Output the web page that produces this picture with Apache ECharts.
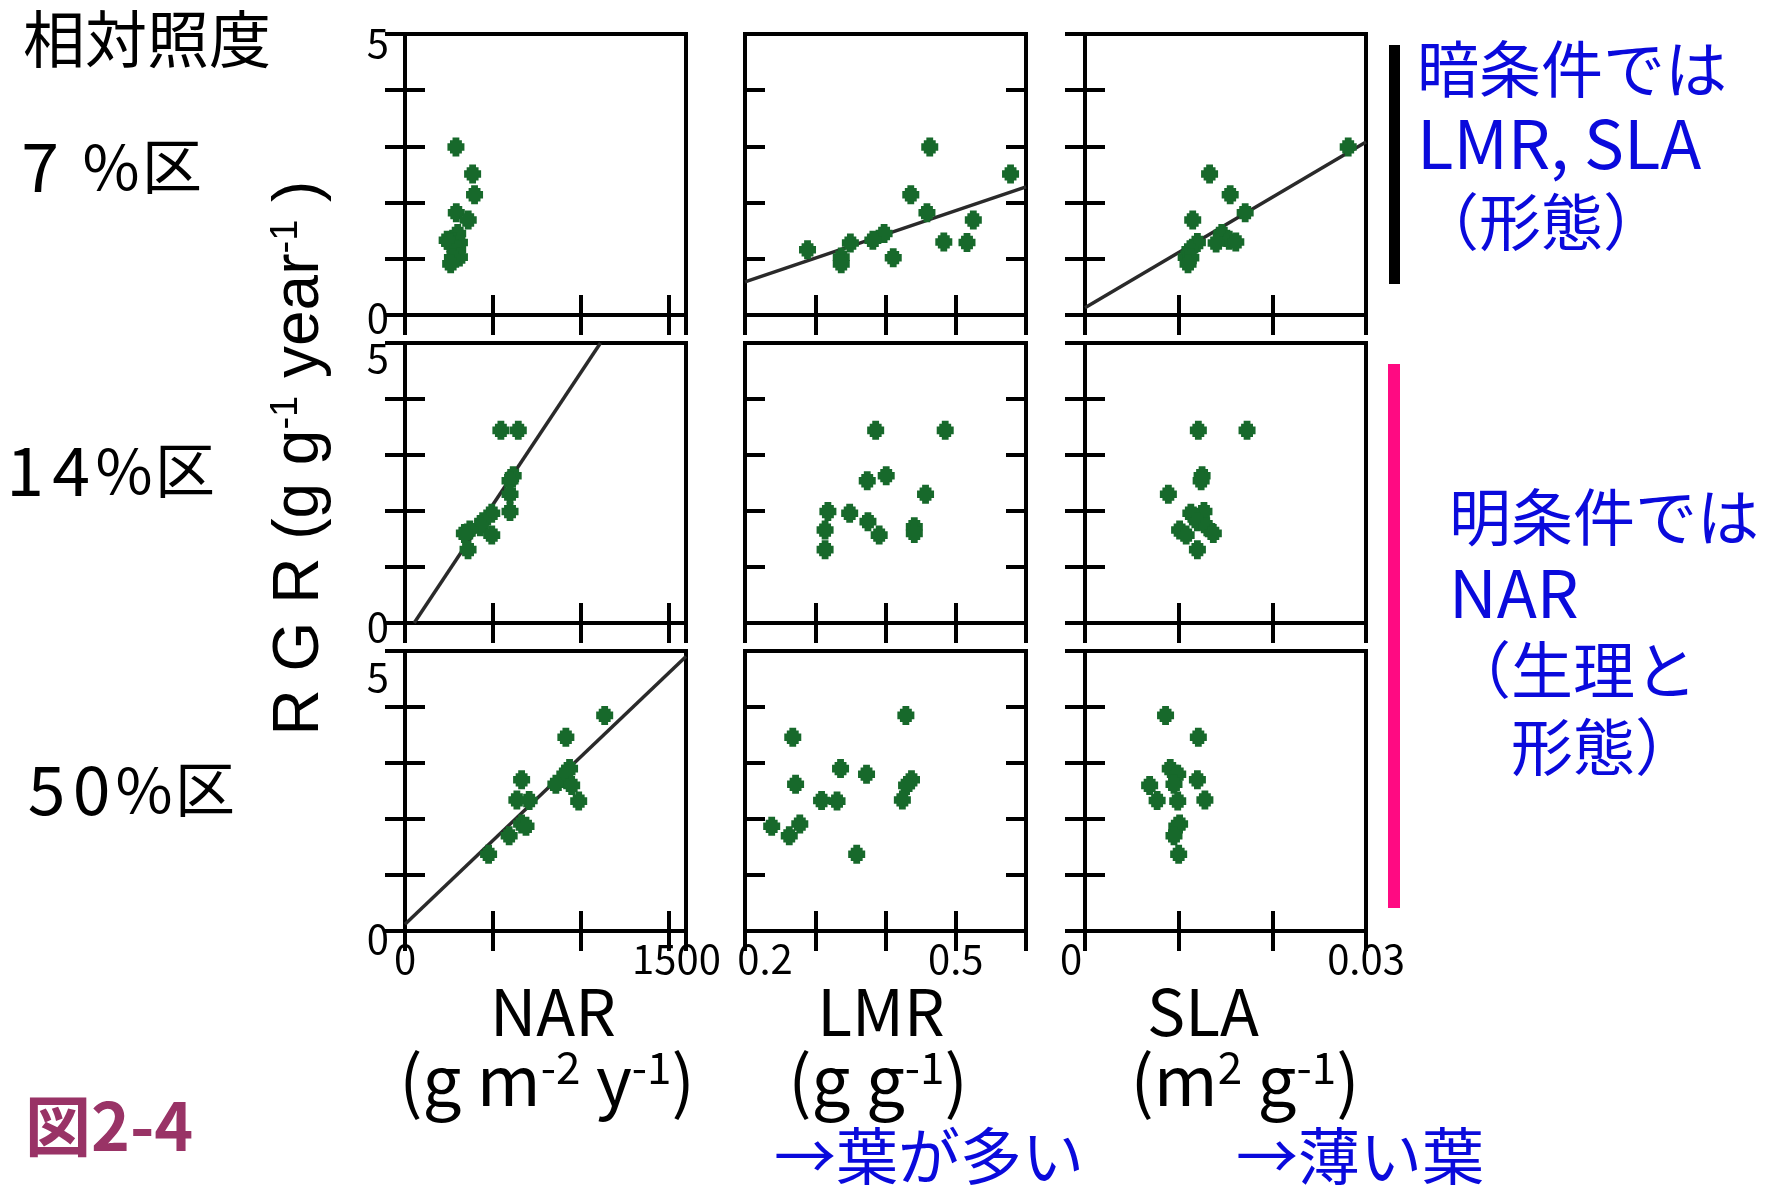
<!DOCTYPE html>
<html><head><meta charset="utf-8">
<script src="https://cdn.jsdelivr.net/npm/echarts@6/dist/echarts.min.js"></script>
<style>html,body{margin:0;padding:0;background:#fff}#c{width:1778px;height:1186px}</style>
</head><body><div id="c"></div>
<script>
// ---------------- data ----------------
// 7% light
const rgr7 = [2.99, 2.51, 2.14, 1.82, 1.69, 1.45, 1.33, 1.30, 1.29, 1.28, 1.16, 1.03, 1.02, 0.91];
const nar7 = [290, 385, 396, 292, 360, 300, 240, 280, 310, 255, 300, 310, 270, 260];
const lmr7 = [0.463, 0.578, 0.436, 0.459, 0.525, 0.398, 0.382, 0.483, 0.516, 0.350, 0.289, 0.337, 0.411, 0.337];
const sla7 = [0.0281, 0.0133, 0.0155, 0.0171, 0.0115, 0.0146, 0.0154, 0.0161, 0.0120, 0.0140, 0.0112, 0.0108, 0.0113, 0.0110];
// 14% light
const rgr14 = [3.44, 3.44, 2.63, 2.54, 2.30, 1.99, 1.96, 1.81, 1.72, 1.66, 1.60, 1.57, 1.31];
const nar14 = [546, 645, 616, 598, 598, 598, 494, 442, 429, 369, 338, 494, 359];
const lmr14 = [0.386, 0.485, 0.401, 0.374, 0.457, 0.318, 0.349, 0.375, 0.441, 0.314, 0.441, 0.391, 0.314];
const sla14 = [0.0121, 0.0173, 0.0125, 0.0124, 0.0089, 0.0127, 0.0113, 0.0120, 0.0130, 0.0101, 0.0137, 0.0108, 0.0120];
// 50% light
const rgr50 = [3.85, 3.46, 2.90, 2.80, 2.70, 2.62, 2.60, 2.34, 2.33, 2.32, 1.91, 1.87, 1.70, 1.37];
const nar50 = [1137, 916, 937, 910, 664, 859, 949, 637, 707, 989, 664, 689, 593, 476];
const lmr50 = [0.429, 0.268, 0.336, 0.373, 0.437, 0.272, 0.430, 0.424, 0.309, 0.331, 0.278, 0.238, 0.263, 0.359];
const sla50 = [0.0086, 0.0121, 0.0091, 0.0099, 0.0120, 0.0095, 0.0069, 0.0128, 0.0077, 0.0099, 0.0101, 0.0098, 0.0095, 0.0100];
// regression lines (endpoints, data units)
const regLMR7 = [[0.2, 0.59], [0.6, 2.28]];
const regSLA7 = [[0, 0.13], [0.03, 3.08]];
const regNAR14 = [[52, 0], [1113, 5]];
const regNAR50 = [[0, 0.12], [1600, 4.9]];
// axis settings / tick labels
const xNames = ['NAR', 'LMR', 'SLA'];
const xMin = [0, 0.2, 0];
const xMax = [1600, 0.6, 0.03];
const xStep = [500, 0.1, 0.01];
const xTickLabels = [['0', '1500'], ['0.2', '0.5'], ['0', '0.03']];
const yTickLabels = ['0', '5'];
const rowLabels = ['7 %区', '14%区', '50%区'];

// ---------------- layout ----------------
const FONT = '"Noto Sans CJK JP", "Noto Sans", sans-serif';
const LFONT = '"Liberation Sans", Arial, sans-serif';
const colLeft = [405, 745, 1085];
const rowTop = [34, 343, 651];
const rowH = [281, 280, 280];
const W = 281;
const GREEN = '#17692b';
const BLUE = '#0a0adc';
const MARK = 'path://M3,0 L7,0 L7,1.5 L8.5,1.5 L8.5,3 L10,3 L10,7 L8.5,7 L8.5,8.5 L7,8.5 L7,10 L3,10 L3,8.5 L1.5,8.5 L1.5,7 L0,7 L0,3 L1.5,3 L1.5,1.5 L3,1.5 Z';

const rows = [
  {y: rgr7, x: [nar7, lmr7, sla7], reg: [null, regLMR7, regSLA7]},
  {y: rgr14, x: [nar14, lmr14, sla14], reg: [regNAR14, null, null]},
  {y: rgr50, x: [nar50, lmr50, sla50], reg: [regNAR50, null, null]}
];
// per-row vertical nudges of y tick labels (padding top) [for 0, for 5]
const yLabPad = [[5, 18], [8, 30], [16, 52]];
// per-column horizontal nudges of x tick labels
const xLabPad = [[[0,0,0,0],[0,0,0,16]], [[0,0,0,40],[0,0,0,0]], [[0,28,0,0],[0,0,0,0]]];

const grids = [], xAxes = [], yAxes = [], series = [];
const near = (a, b) => Math.abs(a - b) < 1e-9;

for (let r = 0; r < 3; r++) {
  for (let c = 0; c < 3; c++) {
    const g = r * 3 + c;
    grids.push({left: colLeft[c], top: rowTop[r], width: W, height: rowH[r],
      show: true, borderColor: '#000', borderWidth: 4, backgroundColor: 'transparent'});
    const tick = {show: true, inside: true, length: 20, lineStyle: {color: '#000', width: 4}};
    const xl = xTickLabels[c];
    xAxes.push({
      gridIndex: g, type: 'value', position: 'bottom', min: xMin[c], max: xMax[c], interval: xStep[c],
      axisLine: {show: false}, axisTick: tick, splitLine: {show: false},
      axisLabel: {
        show: r === 2, margin: 8, color: '#000', fontFamily: FONT, fontSize: 40, verticalAlign: 'top',
        formatter: v => near(v, xMin[c]) ? '{a|' + xl[0] + '}' : (near(v, parseFloat(xl[1])) ? '{b|' + xl[1] + '}' : ''),
        rich: {a: {fontFamily: FONT, fontSize: 40, color: '#000', padding: xLabPad[c][0]},
               b: {fontFamily: FONT, fontSize: 40, color: '#000', padding: xLabPad[c][1]}}
      }
    });
    xAxes.push({
      gridIndex: g, type: 'value', position: 'top', min: xMin[c], max: xMax[c], interval: xStep[c],
      axisLine: {show: false}, axisTick: tick, splitLine: {show: false}, axisLabel: {show: false}
    });
    yAxes.push({
      gridIndex: g, type: 'value', position: 'left', min: 0, max: 5, interval: 1,
      axisLine: {show: false}, axisTick: tick, splitLine: {show: false},
      axisLabel: {
        show: c === 0, margin: 16, color: '#000', fontFamily: FONT, fontSize: 40,
        formatter: v => v === 0 ? '{a|' + yTickLabels[0] + '}' : (v === 5 ? '{b|' + yTickLabels[1] + '}' : ''),
        rich: {a: {fontFamily: FONT, fontSize: 40, color: '#000', padding: [yLabPad[r][0], 0, 0, 0]},
               b: {fontFamily: FONT, fontSize: 40, color: '#000', padding: [yLabPad[r][1], 0, 0, 0]}}
      }
    });
    yAxes.push({
      gridIndex: g, type: 'value', position: 'right', min: 0, max: 5, interval: 1,
      axisLine: {show: false}, axisTick: tick, splitLine: {show: false}, axisLabel: {show: false}
    });
    const row = rows[r];
    if (row.reg[c]) {
      series.push({type: 'line', xAxisIndex: 2 * g, yAxisIndex: 2 * g, data: row.reg[c],
        showSymbol: false, silent: true, z: 1, lineStyle: {color: '#2a2a2a', width: 3.5}});
    }
    series.push({type: 'scatter', xAxisIndex: 2 * g, yAxisIndex: 2 * g, z: 3,
      data: row.y.map((v, i) => [row.x[c][i], v]),
      symbol: MARK, symbolSize: [17, 19], itemStyle: {color: GREEN, opacity: 1}});
  }
}

const txt = (text, x, y, size, color, opts) => Object.assign({
  type: 'text', x: x, y: y, silent: true,
  style: Object.assign({text: text, fontFamily: FONT, fontSize: size, fill: color || '#000',
    textAlign: 'left', textVerticalAlign: 'middle'}, (opts && opts.style) || {})
}, (opts && opts.el) || {});

const sup = (size, fam) => ({s: {fontFamily: fam || FONT, fontSize: size, verticalAlign: 'top', fill: '#000'}});

// row labels: per-character tokens with fixed cells
const rowLabelRich = {
  d: {fontFamily: FONT, fontSize: 68, width: 46, align: 'center', fill: '#000'},
  e: {fontFamily: FONT, fontSize: 68, width: 45, align: 'center', fill: '#000'},
  w: {fontFamily: FONT, fontSize: 60, width: 18},
  p: {fontFamily: FONT, fontSize: 62, width: 60, align: 'center', fill: '#000'},
  k: {fontFamily: FONT, fontSize: 60, width: 62, align: 'center', fill: '#000'}
};
const tokenize = (s, dig) => s.split('').map(ch => {
  const t = ch === ' ' ? 'w' : (ch === '%' ? 'p' : (ch === '区' ? 'k' : dig));
  return '{' + t + '|' + (ch === ' ' ? ' ' : ch) + '}';
}).join('');

const graphic = [
  txt('相対照度', 23, 39, 62),
  txt(tokenize(rowLabels[0], 'd'), 17, 166, 60, '#000', {style: {rich: rowLabelRich}}),
  txt(tokenize(rowLabels[1], 'd'), 2, 470, 60, '#000', {style: {rich: rowLabelRich}}),
  txt(tokenize(rowLabels[2], 'e'), 24, 789, 60, '#000', {style: {rich: rowLabelRich}}),
  txt('R G R (g g{s|-1} year{s|-1} )', 300, 458, 64, '#000',
    {style: {textAlign: 'center', fontFamily: LFONT, rich: sup(38, LFONT)}, el: {rotation: Math.PI / 2}}),
  txt(xNames[0], 553, 1012, 64, '#000', {style: {textAlign: 'center'}}),
  txt('(g m{s|-2} y{s|-1})', 547, 1080, 69, '#000', {style: {textAlign: 'center', rich: sup(44)}}),
  txt(xNames[1], 881, 1012, 64, '#000', {style: {textAlign: 'center'}}),
  txt('(g g{s|-1})', 878, 1080, 69, '#000', {style: {textAlign: 'center', rich: sup(44)}}),
  txt(xNames[2], 1203, 1012, 64, '#000', {style: {textAlign: 'center'}}),
  txt('(m{s|2} g{s|-1})', 1245, 1080, 69, '#000', {style: {textAlign: 'center', rich: sup(44)}}),
  txt('暗条件では', 1417, 69, 62, BLUE),
  txt('LMR, SLA', 1417, 144, 67, BLUE),
  txt('（形態）', 1417, 222, 62, BLUE),
  txt('明条件では', 1449, 517, 62, BLUE),
  txt('NAR', 1449, 593, 66, BLUE),
  txt('（生理と', 1449, 670, 62, BLUE),
  txt('　形態）', 1449, 747, 62, BLUE),
  txt('→葉が多い', 774, 1156, 62, BLUE),
  txt('→薄い葉', 1236, 1156, 62, BLUE),
  txt('図2-4', 25, 1126, 66, '#993366', {style: {fontWeight: 'bold'}}),
  {type: 'rect', silent: true, shape: {x: 1389, y: 45, width: 11, height: 239}, style: {fill: '#000'}},
  {type: 'rect', silent: true, shape: {x: 1388, y: 364, width: 12, height: 544}, style: {fill: '#ff0a82'}}
];

const chart = echarts.init(document.getElementById('c'), null, {renderer: 'canvas'});
chart.setOption({
  animation: false,
  backgroundColor: '#fff',
  grid: grids, xAxis: xAxes, yAxis: yAxes, series: series, graphic: graphic
});
</script>
</body></html>
